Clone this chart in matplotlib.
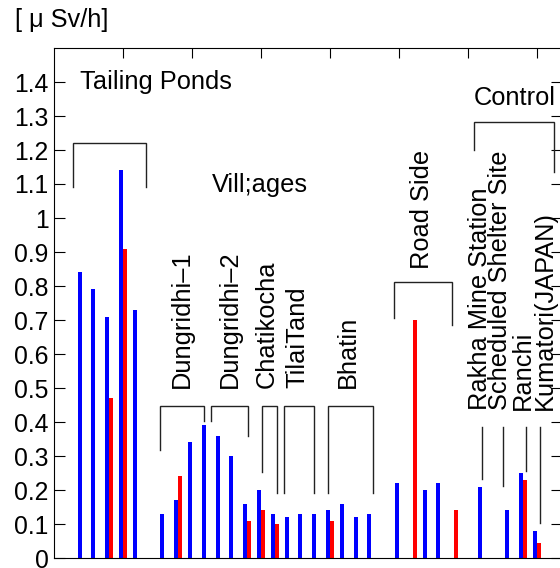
import matplotlib
matplotlib.use("Agg")
import matplotlib.pyplot as plt
import numpy as np

plt.rcParams['font.family'] = ['Liberation Sans', 'DejaVu Sans']

# ---- data ----
site_pos = [4, 6, 8, 10, 12,
            16, 18, 20, 22, 24, 26, 28, 30, 32, 34, 36, 38, 40, 42, 44, 46,
            50, 52, 54, 56, 58,
            62, 66, 68, 70]
blue_vals = [0.84, 0.79, 0.71, 1.14, 0.73,
             0.13, 0.17, 0.34, 0.39, 0.36, 0.30, 0.16, 0.20, 0.13, 0.12, 0.13, 0.13, 0.14, 0.16, 0.12, 0.13,
             0.22, 0.0, 0.20, 0.22, 0.0,
             0.21, 0.14, 0.25, 0.08]
red_vals = [0.0, 0.0, 0.47, 0.91, 0.0,
            0.0, 0.24, 0.0, 0.0, 0.0, 0.0, 0.11, 0.14, 0.10, 0.0, 0.0, 0.0, 0.11, 0.0, 0.0, 0.0,
            0.0, 0.70, 0.0, 0.0, 0.14,
            0.0, 0.0, 0.23, 0.045]
y_ticks = [0, 0.1, 0.2, 0.3, 0.4, 0.5, 0.6, 0.7, 0.8, 0.9, 1.0, 1.1, 1.2, 1.3, 1.4]
y_ticklabels = ['0', '0.1', '0.2', '0.3', '0.4', '0.5', '0.6', '0.7', '0.8', '0.9',
                '1', '1.1', '1.2', '1.3', '1.4']
x_ticks = [10, 20, 30, 40, 50, 60, 70]
unit_label = '[ \u03bc Sv/h]'

W, H = 560, 568
fig = plt.figure(figsize=(W / 100, H / 100), dpi=100)
ax = fig.add_axes([54 / W, (H - 558) / H, (562 - 54) / W, (558 - 48) / H])

x = np.array(site_pos, dtype=float)
bw = 0.58
ax.bar(x - bw / 2, blue_vals, width=bw, color='#0000ff', linewidth=0)
ax.bar(x + bw / 2, red_vals, width=bw, color='#ff0000', linewidth=0)

ax.set_xlim(0, (562 - 54) / 6.9)
ax.set_ylim(0, 1.5)
ax.set_yticks(y_ticks)
ax.set_yticklabels(y_ticklabels)
ax.set_xticks(x_ticks)
ax.tick_params(axis='y', direction='in', length=8, width=0.8, labelsize=17.8,
               right=True, left=True, pad=4)
ax.tick_params(axis='x', direction='in', length=7, width=0.8, top=True, bottom=False,
               labelbottom=False)
for s in ax.spines.values():
    s.set_linewidth(0.8)

lc = '#222222'
lw = 1.0
fs = 18.3

def bracket(x0, x1, ytop, yl, yr):
    ax.plot([x0, x0, x1, x1], [yl, ytop, ytop, yr], color=lc, lw=lw, solid_joinstyle='miter')

# Tailing ponds
bracket(2.71, 13.29, 1.22, 1.09, 1.09)
ax.text(3.75, 1.40, 'Tailing Ponds', fontsize=fs, ha='left', va='center')
# Villages
ax.text(22.85, 1.097, 'Vill;ages', fontsize=fs, ha='left', va='center')
bracket(15.36, 21.74, 0.448, 0.318, 0.403)
bracket(22.75, 28.07, 0.448, 0.404, 0.36)
bracket(30.15, 32.27, 0.448, 0.254, 0.19)
bracket(33.33, 37.63, 0.448, 0.19, 0.19)
bracket(39.7, 46.19, 0.448, 0.19, 0.19)
for xc, lab in [(18.55, 'Dungridhi\u20131'), (25.5, 'Dungridhi\u20132'),
                (30.9, 'Chatikocha'), (35.2, 'TilaiTand'), (42.6, 'Bhatin')]:
    ax.text(xc, 0.50, lab, fontsize=fs, rotation=90, ha='center', va='bottom')
# Road side
bracket(49.3, 57.7, 0.8127, 0.705, 0.685)
ax.text(53.3, 0.85, 'Road Side', fontsize=fs, rotation=90, ha='center', va='bottom')
# Control
bracket(60.9, 72.5, 1.283, 1.2, 1.136)
ax.text(60.85, 1.353, 'Control', fontsize=fs, ha='left', va='center')
for xc, y1 in [(61.96, 0.231), (65.1, 0.212), (68.36, 0.256), (70.43, 0.104)]:
    ax.plot([xc, xc], [0.386, y1], color=lc, lw=lw)
for xc, lab in [(61.7, 'Rakha Mine Station'), (64.7, 'Scheduled Shelter Site'),
                (67.9, 'Ranchi'), (71.1, 'Kumatori(JAPAN)')]:
    ax.text(xc, 0.435, lab, fontsize=fs, rotation=90, ha='center', va='bottom')

fig.text(15 / W, 1 - 20 / H, unit_label, fontsize=fs, ha='left', va='center')

fig.savefig('out.png', dpi=100)
